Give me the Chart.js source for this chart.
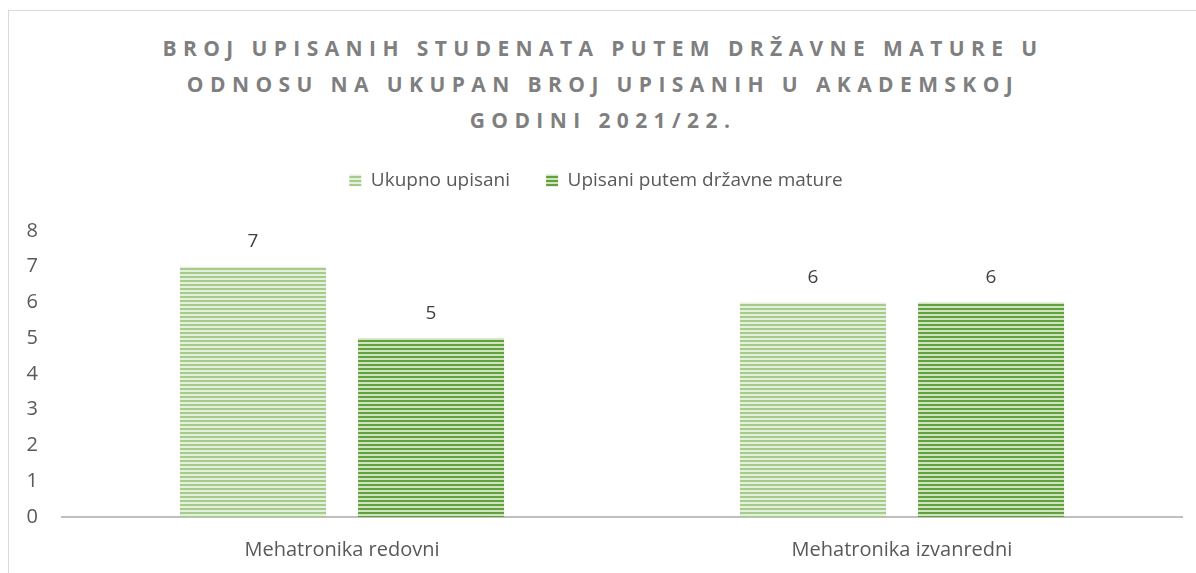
<!DOCTYPE html>
<html>
<head>
<meta charset="utf-8">
<script src="https://cdn.jsdelivr.net/npm/chart.js@4/dist/chart.umd.min.js"></script>
<style>
  html, body { margin: 0; padding: 0; background: #fff; }
  #wrap { position: relative; width: 1196px; height: 573px; overflow: hidden; }
  #frame { position: absolute; left: 8px; top: 10px; width: 1300px; height: 700px; border: 1px solid #d9d9d9; }
  #title {
    position: absolute; left: 5px; top: 30px; width: 1196px; text-align: center;
    font-family: "Open Sans", sans-serif; font-weight: bold; font-size: 21px;
    letter-spacing: 6.4px; line-height: 36px; color: #7f7f7f;
  }
  canvas { position: absolute; left: 0; top: 0; }
</style>
</head>
<body>
<div id="wrap">
  <div id="frame"></div>
  <div id="title">BROJ UPISANIH STUDENATA PUTEM DRŽAVNE MATURE U<br>ODNOSU NA UKUPAN BROJ UPISANIH U AKADEMSKOJ<br>GODINI 2021/22.</div>
  <canvas id="grafik" width="1196" height="573"></canvas>
</div>
<script>
const kategorije = ['Mehatronika redovni', 'Mehatronika izvanredni'];
const ukupnoUpisani = [7, 6];
const upisaniMatura = [5, 6];
const nazivi = ['Ukupno upisani', 'Upisani putem državne mature'];

const ctx = document.getElementById('grafik').getContext('2d');
const font = '"Open Sans", sans-serif';

// horizontal stripes like the original fill
function pruge(boja, svijetla) {
    const p = document.createElement('canvas');
    p.width = 4; p.height = 4;
    const g = p.getContext('2d');
    g.fillStyle = svijetla;
    g.fillRect(0, 0, 4, 4);
    g.fillStyle = boja;
    g.fillRect(0, 0, 4, 2);
    return ctx.createPattern(p, 'repeat');
}

const oznake = {
    id: 'oznake',
    afterDatasetsDraw(chart) {
        const c = chart.ctx;
        c.save();
        c.font = '19px ' + font;
        c.fillStyle = '#404040';
        c.textAlign = 'center';
        c.textBaseline = 'middle';
        chart.data.datasets.forEach((ds, i) => {
            chart.getDatasetMeta(i).data.forEach((bar, j) => {
                c.fillText(ds.data[j], bar.x, bar.y - 25);
            });
        });
        c.restore();
    }
};

// legend: fixed height and a small horizontal shift
const legendaPomak = {
    id: 'legendaPomak',
    beforeInit(chart) {
        const fit = chart.legend.fit;
        chart.legend.fit = function () {
            fit.call(this);
            this.height = 96;
        };
    },
    afterLayout(chart) {
        chart.legend.left -= 8;
        chart.legend.right -= 8;
        chart.legend.adjustHitBoxes();
    }
};

new Chart(ctx, {
    type: 'bar',
    data: {
        labels: kategorije,
        datasets: [
            {
                label: nazivi[0],
                data: ukupnoUpisani,
                backgroundColor: pruge('#a6cc8c', '#e4f0dc'),
                barPercentage: 0.82,
                categoryPercentage: 0.636
            },
            {
                label: nazivi[1],
                data: upisaniMatura,
                backgroundColor: pruge('#62a03c', '#cfe4c0'),
                barPercentage: 0.82,
                categoryPercentage: 0.636
            }
        ]
    },
    options: {
        responsive: false,
        animation: false,
        layout: {
            padding: { top: 135, left: 26, right: 14, bottom: 0 }
        },
        plugins: {
            legend: {
                position: 'top',
                labels: {
                    color: '#595959',
                    font: { family: font, size: 19 },
                    boxWidth: 12,
                    boxHeight: 12,
                    padding: 36
                }
            },
            tooltip: { enabled: false }
        },
        scales: {
            x: {
                grid: { display: false },
                border: { color: '#bfbfbf', width: 2 },
                ticks: { color: '#595959', font: { family: font, size: 20 }, padding: 13 },
                afterFit(s) { s.height = 56; }
            },
            y: {
                min: 0,
                max: 8,
                grid: { display: false },
                border: { display: false },
                ticks: { stepSize: 1, color: '#595959', font: { family: font, size: 20 }, padding: 16 },
                afterFit(s) { s.width = 36; }
            }
        }
    },
    plugins: [oznake, legendaPomak]
});
</script>
</body>
</html>
